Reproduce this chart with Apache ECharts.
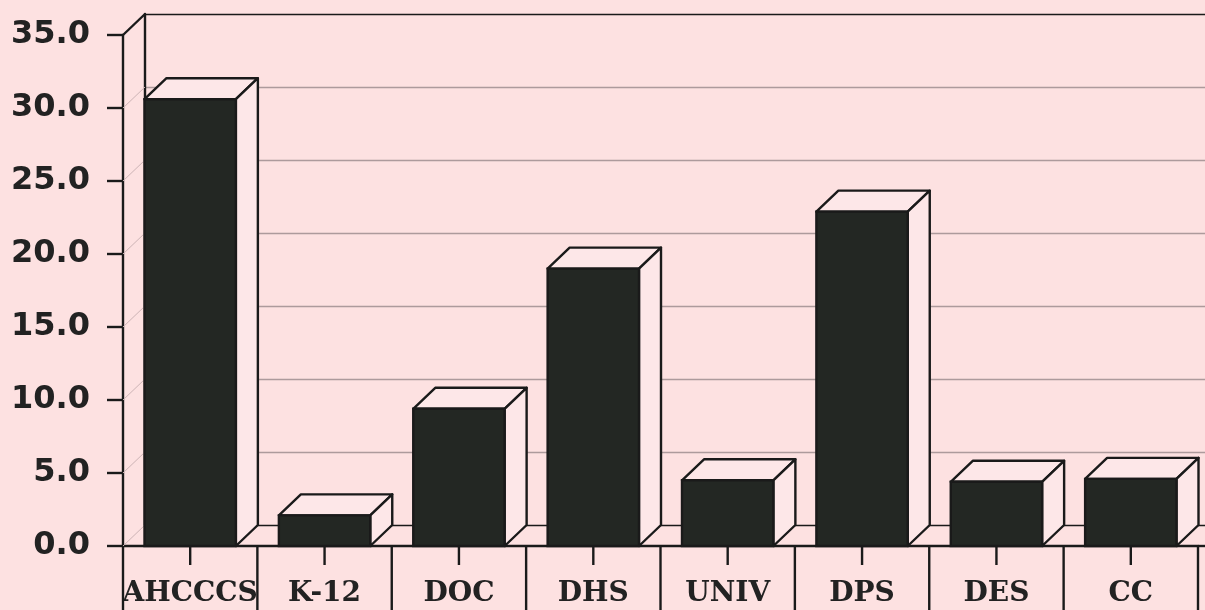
<!DOCTYPE html>
<html>
<head>
<meta charset="utf-8">
<script src="https://cdn.jsdelivr.net/npm/echarts@6/dist/echarts.min.js"></script>
<style>
  html, body { margin: 0; padding: 0; background: #fde1e1; }
  #chart { width: 1205px; height: 610px; }
</style>
</head>
<body>
<div id="chart"></div>
<script>
// ---- data ----
const categories = ['AHCCCS', 'K-12', 'DOC', 'DHS', 'UNIV', 'DPS', 'DES', 'CC'];
const values = [30.6, 2.1, 9.4, 19.0, 4.5, 22.9, 4.4, 4.6];
const yTicks = [0, 5, 10, 15, 20, 25, 30, 35];

// ---- style constants ----
const DX = 22, DY = 21;           // depth offset of the pseudo-3D box
const INK = '#1a1a1a';
const FACE = '#fde7e8';
const FRONT = '#232723';
const BG = '#fde1e1';

const chart = echarts.init(document.getElementById('chart'));

function barItem(params, api) {
  const idx = api.value(0);
  const v = api.value(1);
  const base = api.coord([idx, 0]);
  const top = api.coord([idx, v]);
  const bw = api.size([1, 0])[0] * 0.68;
  const x0 = base[0] - bw / 2, x1 = base[0] + bw / 2;
  const yb = base[1], yt = top[1];
  const st = { fill: FACE, stroke: INK, lineWidth: 2.4, lineJoin: 'round' };
  return {
    type: 'group',
    children: [
      { type: 'polygon', shape: { points: [[x0, yt], [x0 + DX, yt - DY], [x1 + DX, yt - DY], [x1, yt]] }, style: st },
      { type: 'polygon', shape: { points: [[x1, yt], [x1 + DX, yt - DY], [x1 + DX, yb - DY], [x1, yb]] }, style: st },
      { type: 'rect', shape: { x: x0, y: yt, width: bw, height: yb - yt }, style: { fill: FRONT, stroke: INK, lineWidth: 2.4 } },
      { type: 'line', shape: { x1: base[0], y1: yb, x2: base[0], y2: yb + 19 }, style: { stroke: INK, lineWidth: 2.4 } }
    ]
  };
}

function frameItem(params, api) {
  const size = api.size([1, 0])[0];
  const half = size / 2;
  const left = api.coord([0, 0])[0] - half;
  const right = api.coord([categories.length - 1, 0])[0] + half;
  const y0 = api.coord([0, 0])[1];
  const children = [];
  yTicks.forEach(function (t, i) {
    const y = api.coord([0, t])[1];
    const isTop = i === yTicks.length - 1;
    children.push({
      type: 'line',
      shape: { x1: left, y1: y, x2: left + DX, y2: y - DY },
      style: { stroke: isTop ? INK : '#cdb4b6', lineWidth: isTop ? 2.4 : 1 }
    });
  });
  // category separators below the floor
  for (let i = 0; i <= categories.length; i++) {
    const x = left + i * size;
    children.push({ type: 'line', shape: { x1: x, y1: y0, x2: x, y2: y0 + 80 }, style: { stroke: INK, lineWidth: 2.4 } });
  }
  children.push({ type: 'line', shape: { x1: right, y1: y0, x2: right + 20, y2: y0 }, style: { stroke: INK, lineWidth: 2.4 } });
  return { type: 'group', children: children };
}

const splitColors = yTicks.map(function (t, i) {
  return (i === 0 || i === yTicks.length - 1) ? INK : '#ad9a9c';
});

chart.setOption({
  backgroundColor: BG,
  animation: false,
  grid: [
    { left: 123, top: 35, width: 1075, height: 511 },
    { left: 123 + DX, top: 35 - DY, width: 1075, height: 511 }
  ],
  xAxis: [
    {
      gridIndex: 0, type: 'category', data: categories, boundaryGap: true,
      axisLine: { lineStyle: { color: INK, width: 2.4 } },
      axisTick: { show: false },
      axisLabel: {
        interval: 0, margin: 34, color: '#222',
        fontFamily: 'DejaVu Serif', fontWeight: 'bold', fontSize: 28
      }
    },
    { gridIndex: 1, type: 'category', data: categories, show: false }
  ],
  yAxis: [
    {
      gridIndex: 0, type: 'value', min: 0, max: 35, interval: 5,
      axisLine: { show: true, lineStyle: { color: INK, width: 2.4 } },
      axisTick: { show: true, length: 16, lineStyle: { color: INK, width: 2.4 } },
      splitLine: { show: false },
      axisLabel: {
        margin: 33, color: '#222',
        fontFamily: 'DejaVu Sans', fontWeight: 'bold', fontSize: 32,
        formatter: function (v) { return v.toFixed(1); }
      }
    },
    {
      gridIndex: 1, type: 'value', min: 0, max: 35, interval: 5,
      axisLine: { show: true, lineStyle: { color: INK, width: 2.4 } },
      axisTick: { show: false },
      axisLabel: { show: false },
      splitLine: { show: true, lineStyle: { color: splitColors, width: 1.3 } }
    }
  ],
  series: [
    {
      type: 'custom', xAxisIndex: 0, yAxisIndex: 0, z: 1,
      data: [[0, 0]],
      renderItem: frameItem,
      silent: true
    },
    {
      type: 'custom', xAxisIndex: 0, yAxisIndex: 0, z: 3,
      data: values.map(function (v, i) { return [i, v]; }),
      encode: { x: 0, y: 1 },
      renderItem: barItem
    }
  ]
});
</script>
</body>
</html>
